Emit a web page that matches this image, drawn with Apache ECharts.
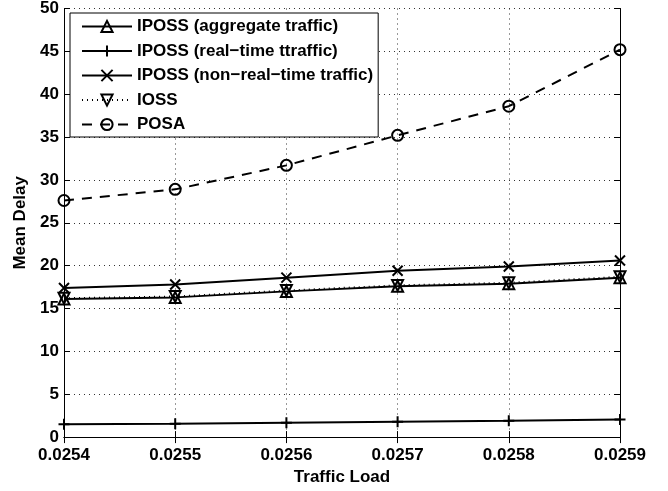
<!DOCTYPE html>
<html>
<head>
<meta charset="utf-8">
<script src="https://cdn.jsdelivr.net/npm/echarts@6/dist/echarts.min.js"></script>
<style>
  html, body { margin: 0; padding: 0; background: #fff; }
  #chart { width: 668px; height: 491px; }
</style>
</head>
<body>
<div id="chart"></div>
<script>
const loads = ['0.0254', '0.0255', '0.0256', '0.0257', '0.0258', '0.0259'];
const aggregate = [16.1, 16.3, 17.0, 17.6, 17.9, 18.6];
const realTime = [1.5, 1.55, 1.68, 1.8, 1.9, 2.05];
const nonRealTime = [17.4, 17.8, 18.6, 19.4, 19.9, 20.6];
const ioss = [16.2, 16.4, 17.1, 17.7, 18.0, 18.7];
const posa = [27.6, 28.9, 31.7, 35.2, 38.6, 45.2];

const font = 'Liberation Sans, Arial, sans-serif';
const plus = 'path://M5,0 L5,10 M0,5 L10,5';
const cross = 'path://M0,0 L10,10 M10,0 L0,10';

// helper for one curve
const mkSeries = (name, data, symbol, size, lineType, rotate) => ({
  name,
  type: 'line',
  data,
  symbol,
  symbolSize: size,
  symbolRotate: rotate || 0,
  symbolKeepAspect: true,
  showAllSymbol: true,
  lineStyle: { color: '#000', width: 2, type: lineType },
  itemStyle: { color: 'transparent', borderColor: '#000', borderWidth: 2 },
  emphasis: { disabled: true },
  animation: false,
});

const myChart = echarts.init(document.getElementById('chart'));

const option = {
  backgroundColor: '#fff',
  animation: false,
  grid: { left: 64, right: 48, top: 8, bottom: 46 },
  legend: {
    orient: 'vertical',
    left: 70,
    top: 13,
    padding: [5, 5, 4, 11],
    itemWidth: 50,
    itemHeight: 14,
    itemGap: 7.5,
    backgroundColor: '#fff',
    borderColor: '#000',
    borderWidth: 1,
    borderRadius: 0,
    textStyle: { fontFamily: font, fontWeight: 'bold', fontSize: 17, color: '#000' },
    data: [
      'IPOSS (aggregate traffic)',
      'IPOSS (real\u2212time ttraffic)',
      'IPOSS (non\u2212real\u2212time traffic)',
      'IOSS',
      'POSA',
    ],
  },
  xAxis: [
    {
      type: 'category',
      data: loads,
      boundaryGap: false,
      name: 'Traffic Load',
      nameLocation: 'middle',
      nameGap: 26,
      nameTextStyle: { fontFamily: font, fontWeight: 'bold', fontSize: 17, color: '#000' },
      axisLine: { lineStyle: { color: '#000', width: 1 } },
      axisTick: { inside: true, length: 6, lineStyle: { color: '#000' } },
      axisLabel: { margin: 10, fontFamily: font, fontWeight: 'bold', fontSize: 17, color: '#000' },
      splitLine: { show: true, lineStyle: { color: '#333', type: [1, 4], width: 1 } },
    },
    {
      type: 'category',
      data: loads,
      boundaryGap: false,
      position: 'top',
      axisLine: { lineStyle: { color: '#000', width: 1 } },
      axisTick: { inside: true, length: 6, lineStyle: { color: '#000' } },
      axisLabel: { show: false },
      splitLine: { show: false },
    },
  ],
  yAxis: [
    {
      type: 'value',
      min: 0,
      max: 50,
      interval: 5,
      name: 'Mean Delay',
      nameLocation: 'middle',
      nameGap: 31,
      nameTextStyle: { fontFamily: font, fontWeight: 'bold', fontSize: 17, color: '#000' },
      axisLine: { show: true, lineStyle: { color: '#000', width: 1 } },
      axisTick: { show: true, inside: true, length: 6, lineStyle: { color: '#000' } },
      axisLabel: { margin: 5, fontFamily: font, fontWeight: 'bold', fontSize: 17, color: '#000' },
      splitLine: { show: true, lineStyle: { color: '#333', type: [1, 4], width: 1 } },
    },
    {
      type: 'value',
      min: 0,
      max: 50,
      interval: 5,
      position: 'right',
      axisLine: { show: true, lineStyle: { color: '#000', width: 1 } },
      axisTick: { show: true, inside: true, length: 6, lineStyle: { color: '#000' } },
      axisLabel: { show: false },
      splitLine: { show: false },
    },
  ],
  series: [
    mkSeries('IPOSS (aggregate traffic)', aggregate, 'triangle', 11, 'solid'),
    mkSeries('IPOSS (real\u2212time ttraffic)', realTime, plus, 11, 'solid'),
    mkSeries('IPOSS (non\u2212real\u2212time traffic)', nonRealTime, cross, 10, 'solid'),
    mkSeries('IOSS', ioss, 'triangle', 11, [1, 4], 180),
    mkSeries('POSA', posa, 'circle', 11, [10, 8]),
  ],
};
myChart.setOption(option);
</script>
</body>
</html>
